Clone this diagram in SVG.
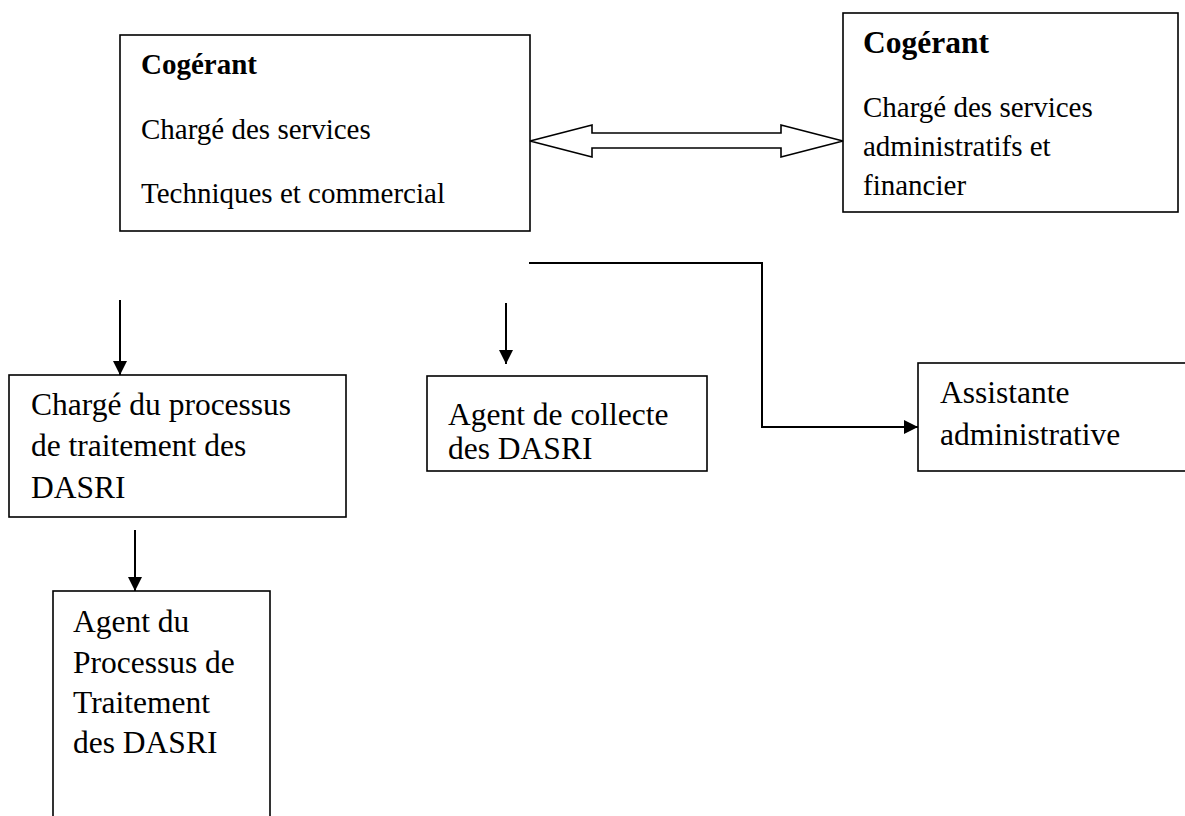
<svg xmlns="http://www.w3.org/2000/svg" width="1185" height="816" viewBox="0 0 1185 816">
<style>
  .box { fill: #ffffff; stroke: #000000; stroke-width: 1.6; }
  .t { font-family: "Liberation Serif", "Times New Roman", serif; fill: #000000; }
  .s29 { font-size: 29px; }
  .s31 { font-size: 31.5px; }
  .b { font-weight: bold; }
  .ln { fill: none; stroke: #000000; stroke-width: 2; }
  .dbl { fill: #ffffff; stroke: #000000; stroke-width: 1.6; stroke-linejoin: miter; }
</style>
<defs>
  <marker id="ah" markerUnits="userSpaceOnUse" markerWidth="16" markerHeight="16" viewBox="0 0 16 16" refX="15" refY="8" orient="auto">
    <path d="M1,1 L15,8 L1,15 Z" fill="#000000"/>
  </marker>
</defs>
<rect width="1185" height="816" fill="#ffffff"/>

<g id="cogerant-technique">
  <rect class="box" x="120" y="35" width="410" height="196"/>
  <text class="t s29 b" x="141" y="74">Cogérant</text>
  <text class="t s29" x="141" y="139">Chargé des services</text>
  <text class="t s29" x="141" y="203">Techniques et commercial</text>
</g>

<g id="cogerant-admin">
  <rect class="box" x="843" y="13" width="335" height="199"/>
  <text class="t s31 b" x="863" y="53">Cogérant</text>
  <text class="t s29" x="863" y="117">Chargé des services</text>
  <text class="t s29" x="863" y="156">administratifs et</text>
  <text class="t s29" x="863" y="195">financier</text>
</g>

<g id="charge-processus">
  <rect class="box" x="9" y="375" width="337" height="142"/>
  <text class="t s31" x="31" y="415">Chargé du processus</text>
  <text class="t s31" x="31" y="456">de traitement des</text>
  <text class="t s31" x="31" y="498">DASRI</text>
</g>

<g id="agent-collecte">
  <rect class="box" x="427" y="376" width="280" height="95"/>
  <text class="t s31" x="448" y="425">Agent de collecte</text>
  <text class="t s31" x="448" y="459">des DASRI</text>
</g>

<g id="assistante">
  <rect class="box" x="918" y="363" width="290" height="108"/>
  <text class="t s31" x="940" y="403">Assistante</text>
  <text class="t s31" x="940" y="445">administrative</text>
</g>

<g id="agent-processus">
  <rect class="box" x="53" y="591" width="217" height="240"/>
  <text class="t s31" x="73" y="632">Agent du</text>
  <text class="t s31" x="73" y="673">Processus de</text>
  <text class="t s31" x="73" y="713">Traitement</text>
  <text class="t s31" x="73" y="753">des DASRI</text>
</g>

<g id="connectors">
  <polygon class="dbl" points="530,141 592,125 592,133 781,133 781,125 843,141 781,157 781,148 592,148 592,157"/>
  <line class="ln" x1="120" y1="300" x2="120" y2="375" marker-end="url(#ah)"/>
  <line class="ln" x1="506" y1="303" x2="506" y2="364" marker-end="url(#ah)"/>
  <line class="ln" x1="135" y1="530" x2="135" y2="591" marker-end="url(#ah)"/>
  <polyline class="ln" points="529,263 762,263 762,427 918,427" marker-end="url(#ah)"/>
</g>
</svg>
